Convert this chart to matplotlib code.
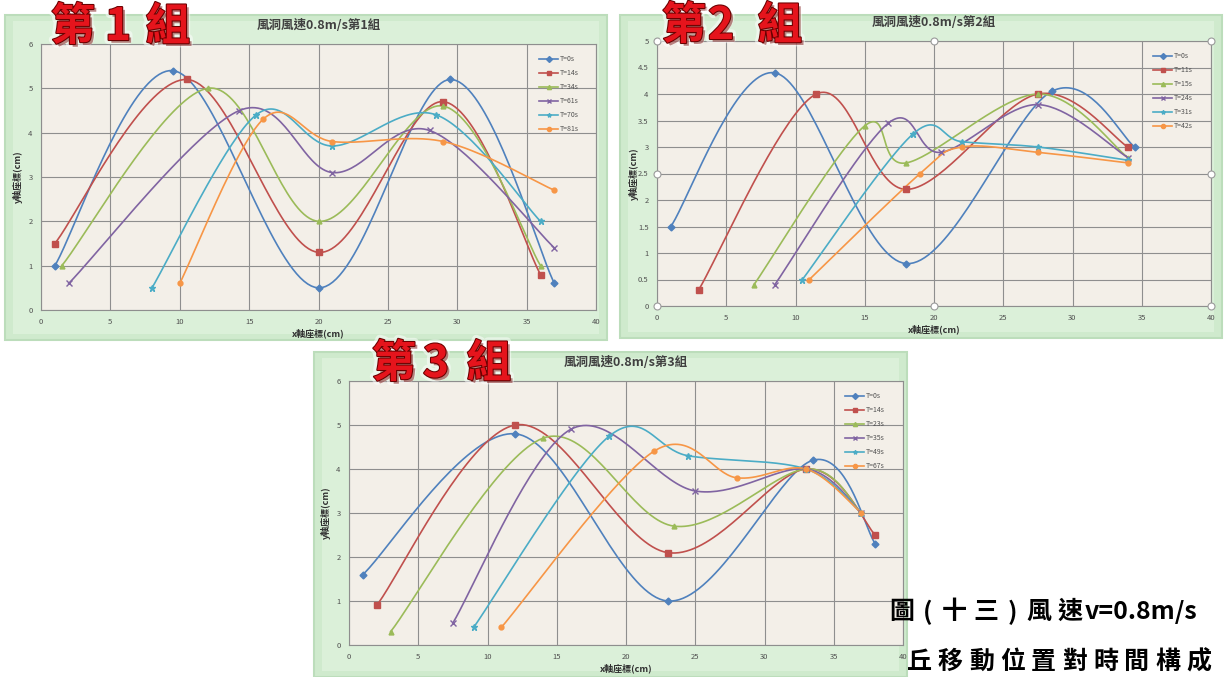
import numpy as np
import matplotlib.pyplot as plt
import matplotlib.patheffects as pe
from matplotlib.patches import Rectangle

plt.rcParams['font.family'] = ['Noto Sans CJK TC', 'DejaVu Sans']

W, H = 1226, 677

colors = ['#4F81BD', '#C0504D', '#9BBB59', '#8064A2', '#4BACC6', '#F79646']
markers = ['D', 's', '^', 'x', '*', 'o']

# group 1
g1_times = ['T=0s', 'T=14s', 'T=34s', 'T=61s', 'T=70s', 'T=81s']
g1_x = [[1, 9.5, 20, 29.5, 37],
        [1, 10.5, 20, 29, 36],
        [1.5, 12, 20, 29, 36],
        [2, 14.3, 21, 28, 37],
        [8, 15.5, 21, 28.5, 36],
        [10, 16, 21, 29, 37]]
g1_y = [[1.0, 5.4, 0.5, 5.2, 0.6],
        [1.5, 5.2, 1.3, 4.7, 0.8],
        [1.0, 5.0, 2.0, 4.6, 1.0],
        [0.6, 4.5, 3.1, 4.05, 1.4],
        [0.5, 4.4, 3.7, 4.4, 2.0],
        [0.6, 4.3, 3.8, 3.8, 2.7]]

# group 2
g2_times = ['T=0s', 'T=11s', 'T=15s', 'T=24s', 'T=31s', 'T=42s']
g2_x = [[1, 8.5, 18, 28.5, 34.5],
        [3, 11.5, 18, 27.5, 34],
        [7, 15, 18, 27.5, 34],
        [8.5, 16.7, 20.5, 27.5, 34],
        [10.5, 18.5, 22, 27.5, 34],
        [11, 19, 22, 27.5, 34]]
g2_y = [[1.5, 4.4, 0.8, 4.05, 3.0],
        [0.3, 4.0, 2.2, 4.0, 3.0],
        [0.4, 3.4, 2.7, 4.0, 2.8],
        [0.4, 3.45, 2.9, 3.8, 2.8],
        [0.5, 3.25, 3.1, 3.0, 2.75],
        [0.5, 2.5, 3.0, 2.9, 2.7]]

# group 3
g3_times = ['T=0s', 'T=14s', 'T=23s', 'T=35s', 'T=49s', 'T=67s']
g3_x = [[1, 12, 23, 33.5, 38],
        [2, 12, 23, 33, 38],
        [3, 14, 23.5, 33, 37],
        [7.5, 16, 25, 33, 37],
        [9, 18.8, 24.5, 33, 37],
        [11, 22, 28, 33, 37]]
g3_y = [[1.6, 4.8, 1.0, 4.2, 2.3],
        [0.9, 5.0, 2.1, 4.0, 2.5],
        [0.3, 4.7, 2.7, 4.0, 3.0],
        [0.5, 4.9, 3.5, 4.0, 3.0],
        [0.4, 4.75, 4.3, 4.0, 3.0],
        [0.4, 4.4, 3.8, 4.0, 3.0]]

caption1 = '圖(十三)風速v=0.8m/s'
caption2 = '丘移動位置對時間構成'


def smooth(xs, ys, n=40):
    # Catmull-Rom style cubic Bezier through every point (Excel "smoothed line")
    p = np.column_stack([xs, ys]).astype(float)
    q = np.vstack([p[:1], p, p[-1:]])
    t = np.linspace(0, 1, n)[:, None]
    parts = []
    for i in range(len(p) - 1):
        p0, p1, p2, p3 = q[i], q[i + 1], q[i + 2], q[i + 3]
        c1 = p1 + (p2 - p0) / 6
        c2 = p2 - (p3 - p1) / 6
        seg = (1 - t) ** 3 * p1 + 3 * (1 - t) ** 2 * t * c1 + 3 * (1 - t) * t ** 2 * c2 + t ** 3 * p2
        parts.append(seg if i == 0 else seg[1:])
    s = np.vstack(parts)
    return s[:, 0], s[:, 1]


def box(x0, y0, x1, y1):
    return [x0 / W, 1 - y1 / H, (x1 - x0) / W, (y1 - y0) / H]


def spaced_text(s, x, y, full=31.0, paren=22.0, **kw):
    # CJK glyphs on a fixed pitch, runs of latin text measured and set as one piece
    renderer = fig.canvas.get_renderer()
    run = ''
    for ch in s + '\0':
        if ch != '\0' and ord(ch) < 0x2E80 and ch not in '()':
            run += ch
            continue
        if run:
            t = fig.text(x / W, 1 - y / H, run, ha='left', va='center', **kw)
            x += t.get_window_extent(renderer).width + 2
            run = ''
        if ch == '\0':
            break
        adv = paren if ch in '()' else full
        fig.text((x + adv / 2) / W, 1 - y / H, ch, ha='center', va='center', **kw)
        x += adv


fig = plt.figure(figsize=(W / 100, H / 100), dpi=100)
fig.patch.set_facecolor('white')

panels = [
    dict(frame=(5, 15, 607, 340), area=(41, 44, 596, 310), times=g1_times, xs=g1_x, ys=g1_y,
         ymax=6, ystep=1, title='風洞風速0.8m/s第1組', tag=('第', '1', '組'),
         tagx=(73, 118, 168), tagy=27, leg=(536, 52), handles=False),
    dict(frame=(620, 15, 1222, 338), area=(657, 41, 1211, 306), times=g2_times, xs=g2_x, ys=g2_y,
         ymax=5, ystep=0.5, title='風洞風速0.8m/s第2組', tag=('第', '2', '組'),
         tagx=(684, 721, 780), tagy=26, leg=(1150, 49), handles=True),
    dict(frame=(314, 352, 907, 677), area=(349, 381, 903, 645), times=g3_times, xs=g3_x, ys=g3_y,
         ymax=6, ystep=1, title='風洞風速0.8m/s第3組', tag=('第', '3', '組'),
         tagx=(394, 436, 489), tagy=364, leg=(842, 389), handles=False),
]

for pn in panels:
    fx0, fy0, fx1, fy1 = pn['frame']
    fig.patches.append(Rectangle((fx0 / W, 1 - fy1 / H), (fx1 - fx0) / W, (fy1 - fy0) / H,
                                 transform=fig.transFigure, facecolor='#CFEACD',
                                 edgecolor='#BCDDBB', lw=1.5, zorder=-2))
    fig.patches.append(Rectangle(((fx0 + 8) / W, 1 - (fy1 - 6) / H), (fx1 - fx0 - 16) / W,
                                 (fy1 - fy0 - 12) / H, transform=fig.transFigure,
                                 facecolor='#DBF0D9', edgecolor='none', zorder=-1))

    ax = fig.add_axes(box(*pn['area']))
    ax.set_facecolor('#F3EFE8')
    for i in range(6):
        sx, sy = smooth(pn['xs'][i], pn['ys'][i])
        ax.plot(sx, sy, color=colors[i], lw=1.2, zorder=3)
        ax.plot(pn['xs'][i], pn['ys'][i], ls='none', marker=markers[i], color=colors[i],
                ms=4.5 if markers[i] in 'sx*' else 3.5, mew=1, zorder=4)
        ax.plot([], [], color=colors[i], lw=1.2, marker=markers[i], ms=3, label=pn['times'][i])

    ax.set_xlim(0, 40)
    ax.set_ylim(0, pn['ymax'])
    ax.set_xticks(np.arange(0, 41, 5))
    yt = np.arange(0, pn['ymax'] + 0.01, pn['ystep'])
    ax.set_yticks(yt)
    ax.set_yticklabels([f'{v:g}' for v in yt])
    ax.grid(True, color='#8E8E8E', lw=0.8)
    ax.set_axisbelow(True)
    for s in ax.spines.values():
        s.set_color('#8E8E8E')
        s.set_linewidth(0.8)
    ax.tick_params(length=0, labelsize=5.5, labelcolor='#505050', pad=6)

    ax.set_title(pn['title'], fontsize=9, fontweight='bold', color='#404040', pad=11)
    ax.set_xlabel('x軸座標(cm)', fontsize=6.5, fontweight='bold', color='#303030', va='center')
    ax.xaxis.set_label_coords(0.5, -23 / (pn['area'][3] - pn['area'][1]))
    ax.set_ylabel('y軸座標(cm)', fontsize=6.5, fontweight='bold', color='#303030', va='center')
    ax.yaxis.set_label_coords(-23 / (pn['area'][2] - pn['area'][0]), 0.5)

    lx, ly = pn['leg']
    ax.legend(loc='upper left', bbox_to_anchor=(lx / W, 1 - ly / H), bbox_transform=fig.transFigure,
              frameon=False, fontsize=5, borderpad=0, handlelength=2.6, handletextpad=0.3,
              labelspacing=0.85, labelcolor='#505050')

    if pn['handles']:
        hx = [0, 0, 0, 20, 20, 40, 40, 40]
        hy = [0, pn['ymax'] / 2, pn['ymax'], pn['ymax'], 0, 0, pn['ymax'] / 2, pn['ymax']]
        ax.plot(hx, hy, ls='none', marker='o', ms=5, mfc='white', mec='#9A9A9A',
                mew=0.8, clip_on=False, zorder=6)

    for ch, cx in zip(pn['tag'], pn['tagx']):
        fig.text(cx / W, 1 - pn['tagy'] / H, ch, fontsize=32, fontweight='bold', color='#E5141C',
                 ha='center', va='center', zorder=10,
                 path_effects=[pe.Stroke(linewidth=6, foreground='white', alpha=0.5),
                               pe.SimplePatchShadow(offset=(2, -2), shadow_rgbFace='#7A1010', alpha=0.5),
                               pe.Stroke(linewidth=1.5, foreground='#6A0000'),
                               pe.Normal()])

spaced_text(caption1, 886, 612, fontsize=18, fontweight='bold', color='black', zorder=11)
spaced_text(caption2, 904, 662, fontsize=18, fontweight='bold', color='black', zorder=11)

fig.savefig('out.png', dpi=100, facecolor='white')
